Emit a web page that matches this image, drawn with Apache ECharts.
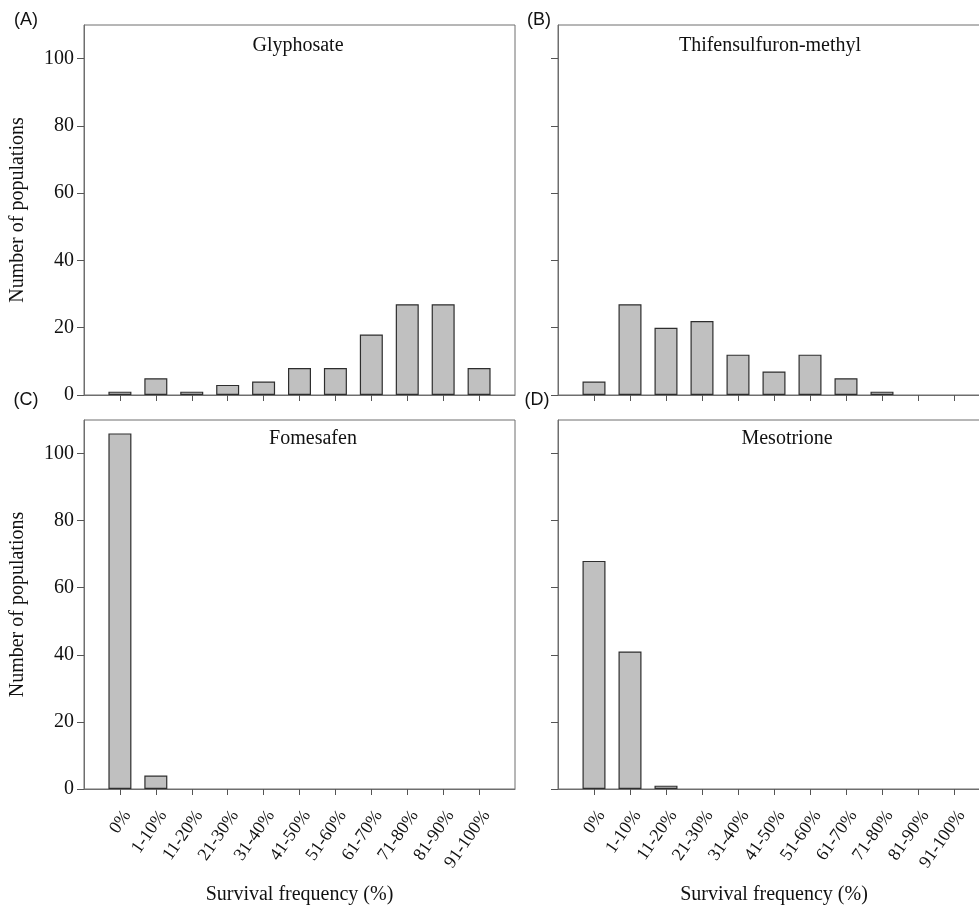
<!DOCTYPE html>
<html>
<head>
<meta charset="utf-8">
<script src="https://cdn.jsdelivr.net/npm/echarts@6/dist/echarts.min.js"></script>
<style>html,body{margin:0;padding:0;background:#fff;}#c{width:979px;height:908px;}</style>
</head>
<body>
<div id="c"></div>
<script>
const categories = ['0%','1-10%','11-20%','21-30%','31-40%','41-50%','51-60%','61-70%','71-80%','81-90%','91-100%'];
const glyphosate = [1,5,1,3,4,8,8,18,27,27,8];
const thifensulfuron = [4,27,20,22,12,7,12,5,1,0,0];
const fomesafen = [106,4,0,0,0,0,0,0,0,0,0];
const mesotrione = [68,41,1,0,0,0,0,0,0,0,0];
const yTicks = [0,20,40,60,80,100];
const panelNames = ['Glyphosate','Thifensulfuron-methyl','Fomesafen','Mesotrione'];
const panelLetters = ['(A)','(B)','(C)','(D)'];
const panelData = [glyphosate, thifensulfuron, fomesafen, mesotrione];

const SERIF = "'Liberation Serif', 'Times New Roman', serif";
const SANS = "'Liberation Sans', Arial, sans-serif";
const FRAME = '#6e6e6e';

const grids = [
  {left: 84, top: 25, width: 431, height: 370},
  {left: 558, top: 25, width: 432, height: 370},
  {left: 84, top: 420, width: 431, height: 369},
  {left: 558, top: 420, width: 432, height: 369}
];
const axisCats = [''].concat(categories, ['']);

const xAxes = [], yAxes = [], series = [];
for (let i = 0; i < 4; i++) {
  const bottom = i >= 2, leftCol = i % 2 === 0;
  xAxes.push({
    type: 'category', gridIndex: i, data: axisCats, boundaryGap: false,
    axisLine: {show: true, lineStyle: {color: FRAME, width: 1}},
    axisTick: {show: true, length: 6, interval: (idx) => idx > 0 && idx < axisCats.length - 1, lineStyle: {color: '#555'}},
    axisLabel: {show: bottom, interval: 0, rotate: 55, margin: 18, verticalAlign: 'top', color: '#111', fontFamily: SERIF, fontSize: 18},
    splitLine: {show: false},
    name: bottom ? 'Survival frequency (%)' : '', nameLocation: 'middle', nameGap: 96,
    nameTextStyle: {fontFamily: SERIF, fontSize: 20, color: '#111'}
  });
  yAxes.push({
    type: 'value', gridIndex: i, min: 0, max: 110, interval: 20,
    axisLine: {show: true, lineStyle: {color: FRAME, width: 1}},
    axisTick: {show: true, length: 7, customValues: yTicks, lineStyle: {color: '#555'}},
    axisLabel: {show: leftCol, customValues: yTicks, margin: 10, color: '#111', fontFamily: SERIF, fontSize: 20},
    splitLine: {show: false},
    name: leftCol ? 'Number of populations' : '', nameLocation: 'middle', nameGap: 56,
    nameTextStyle: {fontFamily: SERIF, fontSize: 20, color: '#111'}
  });
  series.push({
    type: 'bar', xAxisIndex: i, yAxisIndex: i, barWidth: 23,
    data: [null].concat(panelData[i].map(v => ({value: v, itemStyle: v === 0 ? {borderWidth: 0} : {}})), [null]),
    itemStyle: {color: '#c0c0c0', borderColor: '#2e2e2e', borderWidth: 1.2},
    silent: true
  });
}

const titlePos = [[298, 46], [770, 46], [313, 439], [787, 439]];
const letterPos = [[26, 20], [539, 20], [26, 400], [537, 400]];
const graphics = [];
for (let i = 0; i < 4; i++) {
  graphics.push({type: 'text', x: titlePos[i][0], y: titlePos[i][1],
    style: {text: panelNames[i], font: '20px ' + SERIF, fill: '#111', textAlign: 'center', textVerticalAlign: 'middle'}});
  graphics.push({type: 'text', x: letterPos[i][0], y: letterPos[i][1],
    style: {text: panelLetters[i], font: '18px ' + SANS, fill: '#111', textAlign: 'center', textVerticalAlign: 'middle'}});
}

const chart = echarts.init(document.getElementById('c'), null, {renderer: 'canvas'});
chart.setOption({
  animation: false,
  backgroundColor: '#fff',
  grid: grids.map(g => Object.assign({show: true, borderColor: FRAME, borderWidth: 1, backgroundColor: 'transparent', containLabel: false, outerBoundsMode: 'none'}, g)),
  xAxis: xAxes,
  yAxis: yAxes,
  series: series,
  graphic: graphics
});
</script>
</body>
</html>
